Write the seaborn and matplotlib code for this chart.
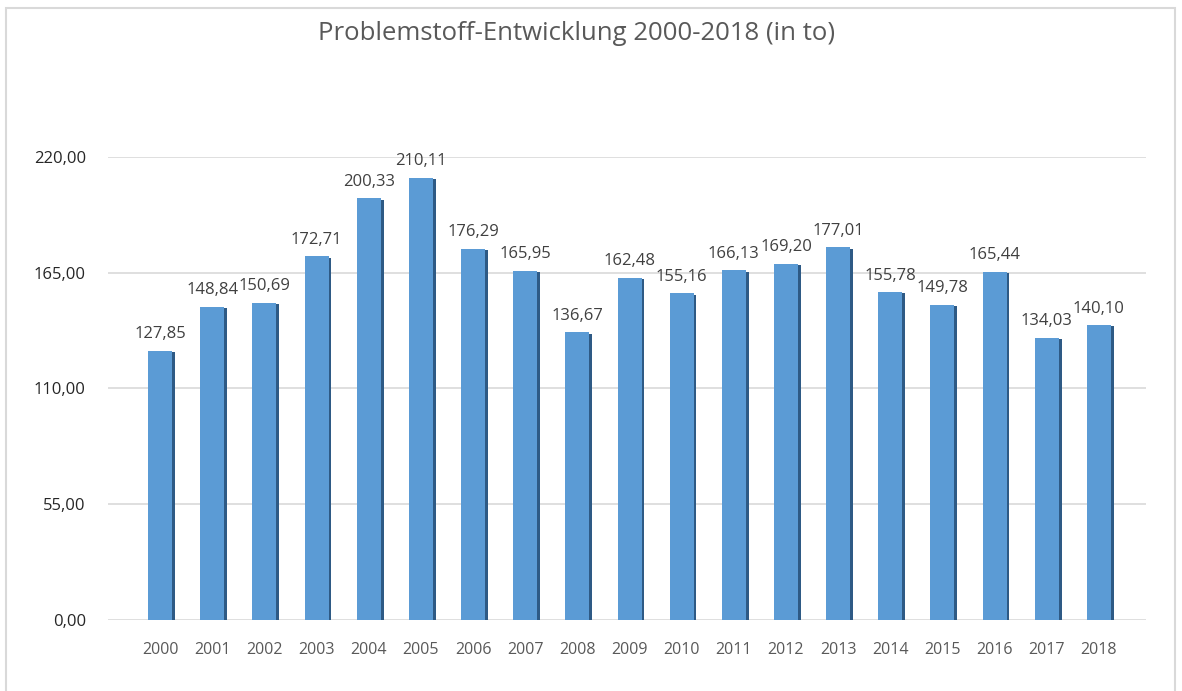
import matplotlib
matplotlib.use("Agg")
import matplotlib.pyplot as plt
import matplotlib.patheffects as pe
from matplotlib.patches import Rectangle
import seaborn as sns
import pandas as pd

# Data
years = [str(y) for y in range(2000, 2019)]
values = [127.85, 148.84, 150.69, 172.71, 200.33, 210.11, 176.29, 165.95, 136.67, 162.48,
          155.16, 166.13, 169.20, 177.01, 155.78, 149.78, 165.44, 134.03, 140.10]
yticks = [0, 55, 110, 165, 220]

df = pd.DataFrame({"Jahr": years, "Menge": values})

sns.set_theme(style="white")
plt.rcParams["font.family"] = ["Open Sans", "DejaVu Sans"]

fig = plt.figure(figsize=(11.82, 6.91), dpi=100)
ax = fig.add_axes([0.0914, 0.103, 0.878, 0.67])

sns.barplot(data=df, x="Jahr", y="Menge", color="#5B9BD5", saturation=1, width=0.46,
            linewidth=0, ax=ax)

# dark side shadow like the Excel 3D look
for bar in ax.patches:
    bar.set_path_effects([pe.SimplePatchShadow(offset=(2, -1), shadow_rgbFace="#2E5A85", alpha=1),
                          pe.Normal()])

for i, v in enumerate(values):
    ax.text(i, v + 4, f"{v:.2f}".replace(".", ","), ha="center", va="bottom",
            fontsize=12, color="#404040")

ax.set_xlim(-1.0, 18.9)
ax.set_ylim(0, 220)
ax.set_yticks(yticks)
ax.set_yticklabels([f"{t:.2f}".replace(".", ",") for t in yticks], fontsize=12, color="#262626")
for t in yticks:
    ax.axhline(t, color="#D9D9D9", lw=1.2, zorder=0)
ax.tick_params(axis="x", labelsize=11.5, labelcolor="#595959", length=0, pad=16)
ax.tick_params(axis="y", length=0, pad=16)
ax.set_xlabel("")
ax.set_ylabel("")
sns.despine(ax=ax, left=True, bottom=True)

fig.text(0.488, 0.952, "Problemstoff-Entwicklung 2000-2018 (in to)", ha="center", va="center",
         fontsize=18.5, color="#595959")

fig.patches.append(Rectangle((0.005, -0.01), 0.989, 0.998, transform=fig.transFigure,
                             fill=False, edgecolor="#D9D9D9", lw=1.5))

fig.savefig("out.png", dpi=100)
